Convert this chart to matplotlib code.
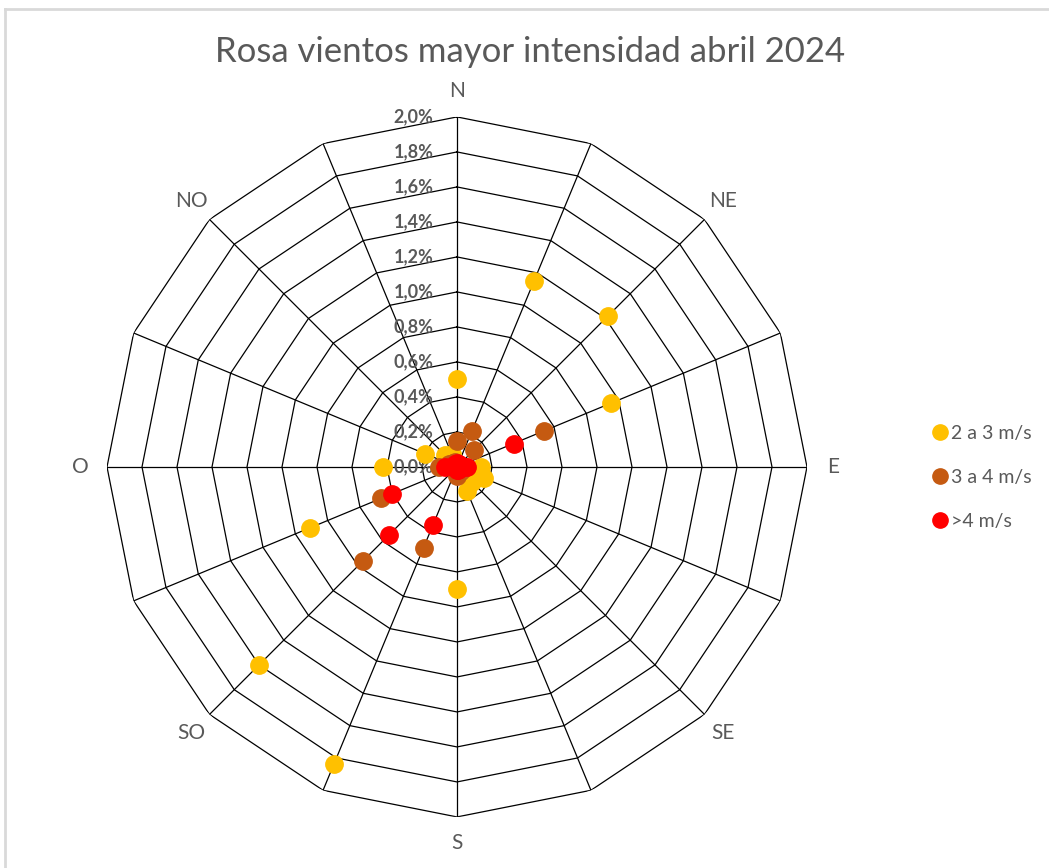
import numpy as np
import matplotlib.pyplot as plt
from matplotlib.lines import Line2D

plt.rcParams['font.family'] = ['Lato', 'DejaVu Sans']

# 16 direcciones, empezando en N y girando en sentido horario
directions = ["N", "NNE", "NE", "ENE", "E", "ESE", "SE", "SSE",
              "S", "SSO", "SO", "OSO", "O", "ONO", "NO", "NNO"]
dir_labels = ["N", "", "NE", "", "E", "", "SE", "",
              "S", "", "SO", "", "O", "", "NO", ""]

# frecuencia (%) por velocidad
v_2_3 = [0.50, 1.15, 1.22, 0.95, 0.14, 0.17, 0.12, 0.15,
         0.70, 1.84, 1.60, 0.91, 0.42, 0.20, 0.10, 0.08]
v_3_4 = [0.15, 0.22, 0.14, 0.54, 0.05, 0.03, 0.03, 0.03,
         0.05, 0.50, 0.76, 0.47, 0.10, 0.05, 0.03, 0.03]
v_4 = [0.02, 0.02, 0.02, 0.35, 0.06, 0.02, 0.02, 0.02,
       0.02, 0.36, 0.55, 0.40, 0.07, 0.02, 0.02, 0.02]

series = [("2 a 3 m/s", v_2_3, "#FFC000"),
          ("3 a 4 m/s", v_3_4, "#C55A11"),
          (">4 m/s", v_4, "#FF0000")]

r_ticks = np.arange(0, 2.01, 0.2)
r_max = 2.0

theta = np.deg2rad(np.arange(len(directions)) * 360 / len(directions))
theta_closed = np.append(theta, theta[0])

fig = plt.figure(figsize=(10.49, 8.68), dpi=100)
ax = fig.add_axes([0.102, 0.0588, 0.6673, 0.8065], projection='polar')
ax.set_theta_zero_location('N')
ax.set_theta_direction(-1)
ax.set_ylim(0, r_max)
ax.grid(False)
ax.spines['polar'].set_visible(False)
ax.set_yticks([])
ax.set_xticks([])

# rejilla poligonal estilo Excel
for r in r_ticks[1:]:
    ax.plot(theta_closed, [r] * len(theta_closed), color='black', lw=0.9, zorder=1)
for t in theta:
    ax.plot([t, t], [0, r_max], color='black', lw=0.9, zorder=1)

# etiquetas de direccion
for t, lab in zip(theta, dir_labels):
    if lab:
        ax.text(t, r_max * 1.075, lab, ha='center', va='center',
                fontsize=15, color='#595959')

# etiquetas del eje radial
for r in r_ticks:
    ax.annotate(f"{r:.1f}%".replace('.', ','), xy=(0, r), xytext=(-17, 0),
                textcoords='offset points', ha='right', va='center',
                fontsize=13, fontweight='bold', color='#595959', zorder=2)

for name, vals, col in series:
    ax.plot(theta, vals, linestyle='none', marker='o', markersize=12.5,
            color=col, label=name, zorder=3)

handles = [Line2D([], [], linestyle='none', marker='o', markersize=11, color=c)
           for _, _, c in series]
fig.legend(handles, [s[0] for s in series], loc='center left',
           bbox_to_anchor=(0.868, 0.45), frameon=False, fontsize=14,
           labelcolor='#595959', handletextpad=0.0, labelspacing=1.38,
           handlelength=1.2)

fig.suptitle("Rosa vientos mayor intensidad abril 2024", x=0.505, y=0.958,
             fontsize=25, color='#595959')

# borde del area del grafico
fig.add_artist(Line2D([0.0045, 1], [0.99, 0.99], color='#d9d9d9', lw=2))
fig.add_artist(Line2D([0.0045, 0.0045], [0, 0.99], color='#d9d9d9', lw=2))

fig.savefig("out.png", dpi=100)
